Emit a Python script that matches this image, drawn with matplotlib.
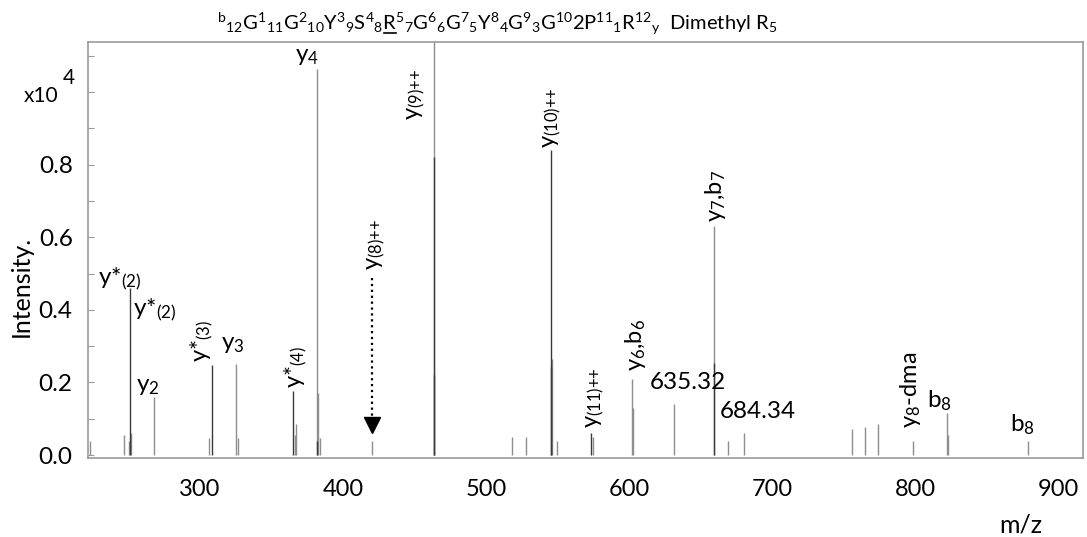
import matplotlib
matplotlib.use("Agg")
import matplotlib.pyplot as plt
from matplotlib import font_manager
from matplotlib.lines import Line2D
from matplotlib.ticker import FixedLocator, FuncFormatter
from matplotlib.transforms import ScaledTranslation

# ---------------- data ----------------
# unannotated / background fragment peaks (m/z, relative intensity x10^4)
mz_light = [227.2, 251.2, 254.2, 255.9, 272.17, 310.6, 329.19, 330.4, 370.4,
            371.6, 386.21, 386.9, 388.3, 424.23, 467.75, 522.1, 531.9, 550.6,
            554.1, 578.6, 606.30, 606.9, 635.32, 663.32, 673.1, 684.34, 760.2,
            768.9, 778.2, 802.40, 826.39, 827.0, 883.4]
int_light = [0.039, 0.055, 0.039, 0.061, 0.160, 0.048, 0.251, 0.048, 0.055,
             0.085, 1.063, 0.172, 0.048, 0.039, 1.30, 0.049, 0.049, 0.266,
             0.038, 0.049, 0.211, 0.131, 0.142, 0.631, 0.039, 0.061, 0.071,
             0.077, 0.085, 0.038, 0.115, 0.056, 0.038]

# overlapping matched fragment peaks
mz_dark = [255.15, 312.17, 369.18, 386.0, 467.9, 468.1, 549.28, 549.6, 577.79,
           663.5]
int_dark = [0.459, 0.249, 0.177, 0.039, 0.822, 0.220, 0.840, 0.243, 0.062,
            0.253]

# fragment annotations: (label, m/z, intensity)
ann_text = ["y*$_{(2)}$", "y*$_{(2)}$", "y$_{2}$", "y*$_{(3)}$", "y$_{3}$",
            "y*$_{(4)}$", "y$_{4}$", "y$_{(9){+}{+}}$", "y$_{(8){+}{+}}$",
            "y$_{(10){+}{+}}$", "y$_{(11){+}{+}}$", "y$_{6}$,b$_{6}$", "635.32",
            "y$_{7}$,b$_{7}$", "684.34", "y$_{8}$-dma", "b$_{8}$", "b$_{8}$"]
ann_mz = [255.15, 255.15, 272.17, 312.17, 329.19, 369.18, 386.21, 467.75,
          424.23, 549.28, 577.79, 606.30, 635.32, 663.32, 684.34, 802.40,
          826.39, 883.4]
ann_int = [0.459, 0.459, 0.160, 0.249, 0.251, 0.177, 1.063, 0.822, 0.039,
           0.840, 0.062, 0.211, 0.142, 0.631, 0.061, 0.038, 0.115, 0.038]

x_ticks = [300, 400, 500, 600, 700, 800, 900]
y_ticks = [round(0.1 * i, 1) for i in range(12)]
y_labels = {0.0: "0.0", 0.2: "0.2", 0.4: "0.4", 0.6: "0.6", 0.8: "0.8"}

title_str = ("$^{b}{}_{12}$G$^{1}{}_{11}$G$^{2}{}_{10}$Y$^{3}{}_{9}$S$^{4}{}_{8}$"
             "R$^{5}{}_{7}$G$^{6}{}_{6}$G$^{7}{}_{5}$Y$^{8}{}_{4}$G$^{9}{}_{3}$"
             "G$^{10}$2P$^{11}{}_{1}$R$^{12}{}_{y}$  Dimethyl R$_{5}$")
title_prefix = "$^{b}{}_{12}$G$^{1}{}_{11}$G$^{2}{}_{10}$Y$^{3}{}_{9}$S$^{4}{}_{8}$"

# ---------------- style ----------------
available = {f.name for f in font_manager.fontManager.ttflist}
FONT = "DejaVu Sans"
for cand in ["Lato", "Open Sans"]:
    if cand in available:
        FONT = cand
        break
plt.rcParams["font.family"] = [FONT, "DejaVu Sans"]
plt.rcParams["mathtext.default"] = "regular"

W, H = 1087, 537
fig = plt.figure(figsize=(W / 100, H / 100), dpi=100)
ax = fig.add_axes([88 / W, (H - 458) / H, (1083 - 88) / W, (458 - 42) / H])

LIGHT = "#8e8e8e"
DARK = "#3a3a3a"
ax.vlines(mz_light, 0, int_light, colors=LIGHT, linewidth=1.0)
ax.vlines(mz_dark, 0, int_dark, colors=DARK, linewidth=1.0)

ax.set_xlim(225.8, 921.6)
ax.set_ylim(-0.008, 1.138)

for s in ax.spines.values():
    s.set_color("#9a9a9a")
    s.set_linewidth(1.2)

ax.xaxis.set_major_locator(FixedLocator(x_ticks))
ax.tick_params(axis="x", length=0, pad=15, labelsize=17)
for lab in ax.get_xticklabels():
    lab.set_transform(lab.get_transform() + ScaledTranslation(0.06, 0, fig.dpi_scale_trans))

ax.yaxis.set_major_locator(FixedLocator(y_ticks))
ax.yaxis.set_major_formatter(FuncFormatter(lambda v, p: y_labels.get(round(v, 1), "")))
ax.tick_params(axis="y", direction="in", length=4, width=0.8, color="#9a9a9a",
               pad=11, labelsize=17.5)

# exponent marker on the intensity axis
fig.text(58 / W, (H - 96) / H, "x10", ha="right", va="center", fontsize=15)
fig.text(63 / W, (H - 78) / H, "4", ha="left", va="center", fontsize=15)

fig.text(21 / W, (H - 286) / H, "Intensity.", rotation=90, ha="center",
         va="center", fontsize=18)
fig.text(1021 / W, (H - 525) / H, "m/z", ha="center", va="center", fontsize=18)

# fragment labels: (centre x, bottom y) in figure pixels from top-left
label_pos = [(120, 292, 0), (155, 323, 0), (148, 397, 0), (201.5, 362, 90),
             (232.5, 355, 0), (295.5, 388, 90), (307.5, 67, 0), (416, 120, 90),
             (376, 270, 90), (551.7, 148, 90), (595, 428, 90), (635, 371, 90),
             (687.5, 393, 0), (716, 222, 90), (757.5, 422, 0), (910.5, 428, 90),
             (939, 413, 0), (1022.5, 437, 0)]
for txt, m, v, (cx, by, rot) in zip(ann_text, ann_mz, ann_int, label_pos):
    size = 17 if rot == 90 else 17.5
    ax.annotate(txt, xy=(m, v), xytext=(cx, H - by), textcoords="figure pixels",
                ha="center", va="bottom", rotation=rot, fontsize=size,
                annotation_clip=False)

# dotted pointer to the y(8)++ peak
ax.plot([424.23, 424.23], [0.488, 0.095], linestyle=":", color="black", lw=1.6)
ax.plot([424.23], [0.083], marker="v", markersize=11, color="black")

# peptide sequence header, scaled to its span
renderer = fig.canvas.get_renderer()
x0, base = 217, H - 30
tsize = 16
title = fig.text(x0 / W, base / H, title_str, ha="left", va="baseline", fontsize=tsize)
w = title.get_window_extent(renderer).width
tsize *= (777 - 217) / w
title.set_fontsize(tsize)

pre = fig.text(x0 / W, base / H, title_prefix, ha="left", va="baseline", fontsize=tsize)
w1 = pre.get_window_extent(renderer).width
pre.set_text(title_prefix + "R")
w2 = pre.get_window_extent(renderer).width
pre.remove()
fig.add_artist(Line2D([(x0 + w1 + 1) / W, (x0 + w2 - 1) / W],
                      [(base - 3) / H, (base - 3) / H],
                      transform=fig.transFigure, color="black", lw=1.2))

fig.savefig("out.png", dpi=100)
